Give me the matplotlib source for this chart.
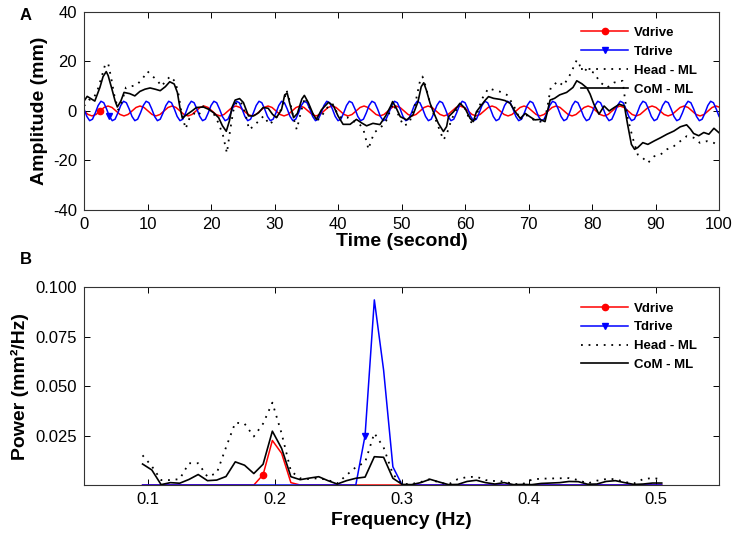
#%% Drive signals vs. body sway (ML) - time traces and power spectra
import numpy as np
import matplotlib
matplotlib.use('Agg')
import matplotlib.pyplot as plt

plt.rcParams['font.family'] = ['Liberation Sans', 'DejaVu Sans']
plt.rcParams['axes.unicode_minus'] = False

#%% Panel A data (time in s, amplitude in mm)
# Vdrive samples, step 0.63 s
vdrive_step = 0.63
vdrive_mm = [
    0, -1.41, -2, -1.41, 0, 1.41, 2, 1.41,
    0, -1.41, -2, -1.41, 0, 1.41, 2, 1.41,
    0, -1.41, -2, -1.41, 0, 1.41, 2, 1.41,
    0, -1.41, -2, -1.41, 0, 1.41, 2, 1.41,
    0, -1.41, -2, -1.41, 0, 1.41, 2, 1.41,
    0, -1.41, -2, -1.41, 0, 1.41, 2, 1.41,
    0, -1.41, -2, -1.41, 0, 1.41, 2, 1.41,
    0, -1.41, -2, -1.41, 0, 1.41, 2, 1.41,
    0, -1.41, -2, -1.41, 0, 1.41, 2, 1.41,
    0, -1.41, -2, -1.41, 0, 1.41, 2, 1.41,
    0, -1.41, -2, -1.41, 0, 1.41, 2, 1.41,
    0, -1.41, -2, -1.41, 0, 1.41, 2, 1.41,
    0, -1.41, -2, -1.41, 0, 1.41, 2, 1.41,
    0, -1.41, -2, -1.41, 0, 1.41, 2, 1.41,
    0, -1.41, -2, -1.41, 0, 1.41, 2, 1.41,
    0, -1.41, -2, -1.41, 0, 1.41, 2, 1.41,
    0, -1.41, -2, -1.41, 0, 1.41, 2, 1.41,
    0, -1.41, -2, -1.41, 0, 1.41, 2, 1.41,
    0, -1.41, -2, -1.41, 0, 1.41, 2, 1.41,
    0, -1.41, -2, -1.41, 0, 1.41, 2, 1.41,
]
# Tdrive samples, step 0.4445 s
tdrive_step = 0.4445
tdrive_mm = [
    0.79, -2.21, -3.92, -3.33, -0.79, 2.21, 3.92, 3.33,
    0.79, -2.21, -3.92, -3.33, -0.79, 2.21, 3.92, 3.33,
    0.79, -2.21, -3.92, -3.33, -0.79, 2.21, 3.92, 3.33,
    0.79, -2.21, -3.92, -3.33, -0.79, 2.21, 3.92, 3.33,
    0.79, -2.21, -3.92, -3.33, -0.79, 2.21, 3.92, 3.33,
    0.79, -2.21, -3.92, -3.33, -0.79, 2.21, 3.92, 3.33,
    0.79, -2.21, -3.92, -3.33, -0.79, 2.21, 3.92, 3.33,
    0.79, -2.21, -3.92, -3.33, -0.79, 2.21, 3.92, 3.33,
    0.79, -2.21, -3.92, -3.33, -0.79, 2.21, 3.92, 3.33,
    0.79, -2.21, -3.92, -3.33, -0.79, 2.21, 3.92, 3.33,
    0.79, -2.21, -3.92, -3.33, -0.79, 2.21, 3.92, 3.33,
    0.79, -2.21, -3.92, -3.33, -0.79, 2.21, 3.92, 3.33,
    0.79, -2.21, -3.92, -3.33, -0.79, 2.21, 3.92, 3.33,
    0.79, -2.21, -3.92, -3.33, -0.79, 2.21, 3.92, 3.33,
    0.79, -2.21, -3.92, -3.33, -0.79, 2.21, 3.92, 3.33,
    0.79, -2.21, -3.92, -3.33, -0.79, 2.21, 3.92, 3.33,
    0.79, -2.21, -3.92, -3.33, -0.79, 2.21, 3.92, 3.33,
    0.79, -2.21, -3.92, -3.33, -0.79, 2.21, 3.92, 3.33,
    0.79, -2.21, -3.92, -3.33, -0.79, 2.21, 3.92, 3.33,
    0.79, -2.21, -3.92, -3.33, -0.79, 2.21, 3.92, 3.33,
    0.79, -2.21, -3.92, -3.33, -0.79, 2.21, 3.92, 3.33,
    0.79, -2.21, -3.92, -3.33, -0.79, 2.21, 3.92, 3.33,
    0.79, -2.21, -3.92, -3.33, -0.79, 2.21, 3.92, 3.33,
    0.79, -2.21, -3.92, -3.33, -0.79, 2.21, 3.92, 3.33,
    0.79, -2.21, -3.92, -3.33, -0.79, 2.21, 3.92, 3.33,
    0.79, -2.21, -3.92, -3.33, -0.79, 2.21, 3.92, 3.33,
    0.79, -2.21, -3.92, -3.33, -0.79, 2.21, 3.92, 3.33,
    0.79, -2.21, -3.92, -3.33, -0.79, 2.21, 3.92, 3.33,
    0.79, -2.21,
]

head_t = [0.0, 0.8, 1.5, 2.2, 2.8, 3.3, 3.8, 4.3, 4.8, 5.4, 6.0, 6.6, 7.5, 8.3, 9.2,
          10.0, 10.8, 11.5, 12.2, 13.0, 13.6, 14.3, 14.8, 15.3, 16.0, 16.6, 17.3, 18.0,
          18.8, 19.6, 20.4, 21.2, 21.9, 22.5, 23.0, 23.5, 24.1, 24.8, 25.4, 26.0, 26.8,
          27.5, 28.3, 29.2, 29.8, 30.5, 31.3, 31.9, 32.5, 33.0, 33.5, 34.2, 34.8, 35.5,
          36.2, 36.9, 37.7, 38.5, 39.1, 39.8, 40.6, 41.4, 42.3, 43.3, 44.0, 44.5, 44.8,
          45.2, 45.8, 46.6, 47.5, 48.2, 48.7, 49.5, 50.3, 51.2, 52.0, 52.9, 53.3, 53.8,
          54.5, 55.3, 56.0, 56.6, 57.1, 57.8, 58.5, 59.5, 60.2, 60.8, 61.4, 62.1, 62.7,
          63.2, 63.7, 64.5, 65.5, 66.6, 67.6, 68.7, 69.3, 70.0, 70.8, 71.8, 72.5, 73.0,
          73.5, 74.0, 74.6, 75.5, 76.6, 77.6, 78.1, 79.2, 80.3, 81.3, 82.4, 83.5, 84.8,
          85.6, 86.4, 87.2, 88.0, 88.8, 89.8, 90.8, 91.8, 92.9, 93.9, 94.9, 96.0, 97.0,
          98.1, 99.2, 100.0]
head_mm = [2.0, 4.5, 5.0, 9.0, 14.0, 18.5, 19.3, 13.0, 6.0, 0.5, 4.0, 9.5, 10.0, 10.5, 13.0,
           16.0, 14.0, 12.5, 10.0, 12.5, 14.0, 12.0, 8.0, 0.0, -7.2, -3.0, -1.0, -2.0,
           2.0, 1.0, -1.0, -5.0, -10.0, -17.0, -8.0, 0.0, 4.0, 3.0, -1.0, -7.5, -6.0,
           -4.0, -2.0, -5.5, -4.0, -2.0, 2.0, 8.4, 3.0, -3.0, -7.5, 0.0, 5.5, 1.5,
           -2.0, -3.5, -1.0, 2.0, 3.0, -0.5, -3.0, -2.5, -4.0, -5.0, -7.5, -12.4, -15.5,
           -12.0, -8.5, -7.0, -4.5, 0.0, 3.0, -1.5, -6.0, -5.0, 1.0, 12.0, 13.9, 10.0,
           3.0, -3.0, -7.7, -11.7, -9.5, -4.0, 0.0, 3.1, 0.0, -4.3, -5.0, 0.5, 5.0,
           7.1, 9.2, 8.5, 7.8, 6.5, 2.5, -3.6, -1.5, -2.0, -3.6, -4.3, -4.5, 2.0,
           9.5, 10.5, 12.0, 10.2, 14.9, 20.6, 18.3, 16.3, 15.5, 11.5, 9.5, 11.5, 12.2,
           -2.7, -10.8, -17.6, -19.0, -21.0, -18.3, -17.6, -15.5, -14.2, -12.2, -10.2, -10.8, -12.9,
           -12.2, -12.9, -14.2]

com_t = [0.0, 0.5, 1.2, 1.7, 2.5, 3.0, 3.5, 3.8, 4.4, 4.9, 5.25, 5.8, 6.3, 7.2, 8.0, 8.8,
         9.6, 10.4, 11.2, 12.0, 12.8, 13.5, 14.2, 14.7, 15.1, 15.5, 15.9, 17.0, 17.7, 18.8,
         19.6, 20.4, 21.2, 21.8, 22.4, 22.9, 23.3, 23.8, 24.5, 25.1, 25.9, 26.7, 27.5, 28.2,
         29.0, 29.7, 30.3, 31.1, 31.6, 32.0, 32.4, 33.0, 33.6, 34.3, 34.7, 35.3, 36.1, 36.6,
         37.4, 38.5, 39.3, 40.0, 40.8, 41.9, 42.9, 43.7, 44.5, 45.5, 46.6, 47.5, 48.3, 48.6,
         49.2, 49.8, 50.8, 51.8, 52.6, 53.1, 53.5, 53.9, 54.5, 55.0, 55.8, 56.6, 57.1, 57.4,
         58.2, 59.2, 60.0, 60.8, 61.3, 61.8, 62.4, 63.2, 63.7, 64.5, 65.5, 66.3, 67.1, 67.9,
         68.7, 69.5, 70.2, 71.0, 71.8, 72.6, 73.4, 74.1, 74.9, 76.0, 77.0, 77.6, 78.4, 79.2,
         79.7, 80.3, 81.1, 81.9, 82.7, 83.5, 84.3, 85.1, 85.6, 86.2, 86.7, 87.2, 88.0, 88.8,
         89.8, 90.8, 91.8, 92.9, 93.9, 94.9, 95.5, 96.0, 96.8, 97.6, 98.4, 99.2, 100.0]
com_mm = [4.0, 5.9, 4.8, 4.0, 9.5, 13.9, 15.9, 14.3, 8.8, 4.0, 1.6, 4.0, 7.5, 7.0, 6.1, 7.9,
          8.8, 9.3, 8.8, 8.2, 9.8, 11.8, 10.9, 7.5, 1.4, -3.0, -2.0, 0.0, 1.4, 1.6,
          0.7, -0.7, -2.7, -6.0, -8.2, -4.0, 1.4, 4.4, 5.0, 3.4, -2.0, -2.0, -0.7, 1.4,
          1.1, -1.4, -2.7, 0.5, 6.5, 7.2, 3.0, -2.7, -1.0, 4.8, 6.3, 3.5, -1.4, -3.4,
          0.5, 3.5, 2.0, -2.0, -5.4, -5.4, -3.4, -4.8, -6.0, -5.0, -5.5, -2.0, 2.0, 3.8,
          1.0, -2.3, -3.6, -1.6, 3.8, 9.8, 11.4, 8.5, 3.1, -0.3, -5.0, -8.3, -6.3, -2.3,
          -0.3, 3.1, 1.1, -3.0, -4.3, -0.3, 1.75, 4.4, 5.8, 5.1, 4.7, 4.2, 3.1, -0.3,
          -3.0, -1.0, -2.3, -3.6, -3.4, -4.3, 4.4, 5.1, 6.5, 7.5, 9.5, 12.2, 11.0, 9.3,
          6.8, 2.7, -1.3, 2.0, 0.0, 1.4, 2.7, 2.0, -5.4, -13.5, -15.5, -14.8, -12.8, -13.5,
          -12.1, -10.8, -9.4, -8.1, -6.4, -5.6, -7.3, -9.1, -10.0, -8.7, -9.4, -7.0, -8.8]

#%% Panel B data (power in mm^2/Hz), 57 bins from 0.0961 to 0.5049 Hz
freq_hz = np.linspace(0.0961, 0.5049, 57)
vdrive_psd = [0, 0, 0, 0, 0, 0, 0, 0, 0, 0, 0, 0, 0, 0.0052, 0.0225, 0.0160, 0.0012, 0,
              0, 0, 0, 0, 0, 0, 0, 0, 0, 0, 0, 0, 0, 0, 0, 0, 0, 0, 0, 0,
              0, 0, 0, 0, 0, 0, 0, 0, 0, 0, 0, 0, 0, 0, 0, 0, 0, 0, 0]
tdrive_psd = [0, 0, 0, 0, 0, 0, 0, 0, 0, 0, 0, 0, 0, 0, 0, 0, 0, 0,
              0, 0, 0, 0, 0, 0, 0.025, 0.0935, 0.058, 0.0092, 0, 0, 0, 0, 0, 0, 0, 0, 0, 0,
              0, 0, 0, 0, 0, 0, 0, 0, 0, 0, 0, 0, 0, 0, 0, 0, 0, 0, 0]
head_psd = [0.0150, 0.0095, 0.0025, 0.0025, 0.0030, 0.0110, 0.0110, 0.0042, 0.0060, 0.0190,
            0.0315, 0.0310, 0.0245, 0.0310, 0.0416, 0.0260, 0.0070, 0.0034, 0.0030, 0.0035,
            0.0025, 0.0008, 0.0050, 0.0090, 0.0115, 0.0262, 0.0190, 0.0055, 0.0005, 0.0005,
            0.0015, 0.0030, 0.0012, 0.0003, 0.0030, 0.0040, 0.0042, 0.0025, 0.0020, 0.0018,
            0.0005, 0.0005, 0.0028, 0.0032, 0.0033, 0.0034, 0.0035, 0.0025, 0.0008, 0.0022,
            0.0030, 0.0030, 0.0015, 0.0008, 0.0030, 0.0035, 0.0030]
com_psd = [0.0106, 0.0076, 0.0002, 0.0012, 0.0009, 0.0028, 0.0053, 0.0022, 0.0025, 0.0043,
           0.0117, 0.0100, 0.0058, 0.0105, 0.0272, 0.0185, 0.0042, 0.0027, 0.0035, 0.0042,
           0.0022, 0.0005, 0.0022, 0.0034, 0.0040, 0.0143, 0.0140, 0.0034, 0.0003, 0.0002,
           0.0012, 0.0029, 0.0015, 0.0002, 0.0003, 0.0018, 0.0024, 0.0012, 0.0005, 0.0012,
           0.0002, 0.0003, 0.0002, 0.0008, 0.0010, 0.0012, 0.0018, 0.0017, 0.0004, 0.0005,
           0.0018, 0.0022, 0.0012, 0.0003, 0.0005, 0.0010, 0.0010]

vdrive_t = np.arange(len(vdrive_mm)) * vdrive_step
tdrive_t = np.arange(len(tdrive_mm)) * tdrive_step

#%% Plot
fig = plt.figure(figsize=(7.37, 5.37), dpi=100)
ax1 = fig.add_axes([0.114, 0.609, 0.8616, 0.3687])
ax2 = fig.add_axes([0.114, 0.0968, 0.8616, 0.3687])

dots = (0, (1, 3.2))

ax1.plot(vdrive_t, vdrive_mm, color='red', lw=1.1, marker='o', ms=4.5, markevery=[4], label='Vdrive')
ax1.plot(tdrive_t, tdrive_mm, color='blue', lw=1.1, marker='v', ms=4.5, markevery=[9], label='Tdrive')
ax1.plot(head_t, head_mm, color='black', lw=1.3, linestyle=dots, label='Head - ML')
ax1.plot(com_t, com_mm, color='black', lw=1.2, label='CoM - ML')
ax1.set_xlim(0, 100)
ax1.set_ylim(-40, 40)
ax1.set_xticks(np.arange(0, 101, 10))
ax1.set_yticks([-40, -20, 0, 20, 40])
ax1.set_xlabel('Time (second)', fontsize=14, fontweight='bold')
ax1.set_ylabel('Amplitude (mm)', fontsize=14, fontweight='bold')
ax1.xaxis.set_label_coords(0.5, -0.115)
ax1.yaxis.set_label_coords(-0.056, 0.5)

ax2.plot(freq_hz, vdrive_psd, color='red', lw=1.1, marker='o', ms=4.5, markevery=[13], label='Vdrive')
ax2.plot(freq_hz, tdrive_psd, color='blue', lw=1.1, marker='v', ms=4.5, markevery=[24], label='Tdrive')
ax2.plot(freq_hz, head_psd, color='black', lw=1.3, linestyle=dots, label='Head - ML')
ax2.plot(freq_hz, com_psd, color='black', lw=1.2, label='CoM - ML')
ax2.set_xlim(0.05, 0.55)
ax2.set_ylim(0, 0.1)
ax2.set_xticks([0.1, 0.2, 0.3, 0.4, 0.5])
ax2.set_yticks([0.025, 0.05, 0.075, 0.1])
ax2.set_yticklabels(['0.025', '0.050', '0.075', '0.100'])
ax2.set_xlabel('Frequency (Hz)', fontsize=14, fontweight='bold')
ax2.set_ylabel('Power (mm²/Hz)', fontsize=14, fontweight='bold')
ax2.xaxis.set_label_coords(0.5, -0.135)
ax2.yaxis.set_label_coords(-0.086, 0.5)

for ax in (ax1, ax2):
    ax.tick_params(direction='in', top=True, right=True, length=4, width=0.7, labelsize=12, pad=5)
    for sp in ax.spines.values():
        sp.set_linewidth(0.8)
        sp.set_color('#333333')

leg_kw = dict(frameon=False, loc='upper left', borderaxespad=0, borderpad=0,
              handlelength=3.5, handletextpad=0.5, labelspacing=0.5,
              prop={'weight': 'bold', 'size': 9.5})
ax1.legend(bbox_to_anchor=(0.789, 0.95), bbox_transform=fig.transFigure, **leg_kw)
ax2.legend(bbox_to_anchor=(0.789, 0.437), bbox_transform=fig.transFigure, **leg_kw)

fig.text(0.027, 0.985, 'A', fontsize=12, fontweight='bold', va='top')
fig.text(0.027, 0.53, 'B', fontsize=12, fontweight='bold', va='top')

fig.savefig('out.png', dpi=100)
